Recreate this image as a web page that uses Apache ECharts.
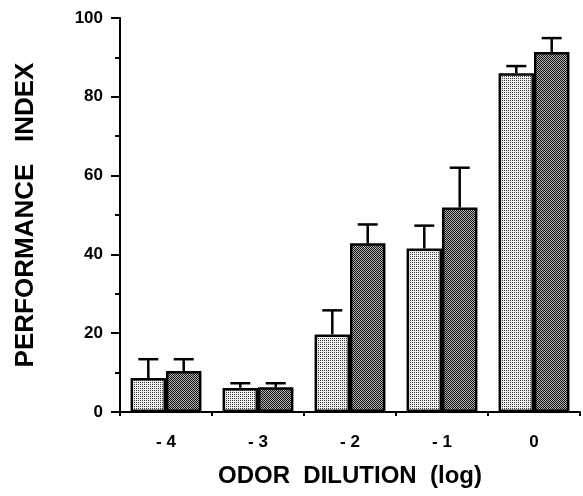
<!DOCTYPE html>
<html>
	<head>
		<meta charset="utf-8">
		<title>Performance index</title>
		<script src="https://cdn.jsdelivr.net/npm/echarts@6/dist/echarts.min.js"></script>
		<style>
			html, body { margin: 0; padding: 0; background: #fff; }
			#myChart { width: 583px; height: 496px; }
		</style>
	</head>
	<body>
		<div id="myChart"></div>
		<script>
			// data
			var categories = ['- 4', '- 3', '- 2', '- 1', '0'];
			var lightValues = [8.6, 6.1, 19.7, 41.5, 86.0];
			var lightErrors = [4.8, 1.2, 6.1, 5.8, 1.8];
			var darkValues = [10.4, 6.3, 42.8, 51.9, 91.4];
			var darkErrors = [3.0, 1.0, 4.8, 10.1, 3.5];

			var gapRatio = 0.23;

			// stipple fill, 2x2 tile
			function makePattern(bg, dot, dots) {
				var c = document.createElement('canvas');
				c.width = 2;
				c.height = 2;
				var ctx = c.getContext('2d');
				ctx.fillStyle = bg;
				ctx.fillRect(0, 0, 2, 2);
				ctx.fillStyle = dot;
				for (var i = 0; i < dots.length; i++) {
					ctx.fillRect(dots[i][0], dots[i][1], 1, 1);
				}
				return c;
			}
			var lightFill = { image: makePattern('#f0f0f0', '#3a3a3a', [[0, 0]]), repeat: 'repeat' };
			var darkFill = { image: makePattern('#b4b4b4', '#111', [[0, 0], [1, 1]]), repeat: 'repeat' };

			function errData(values, errors) {
				var out = [];
				for (var i = 0; i < values.length; i++) {
					out.push([i, values[i], errors[i]]);
				}
				return out;
			}

			function errRender(side) {
				return function(params, api) {
					var idx = api.value(0);
					var v = api.value(1);
					var e = api.value(2);
					var base = api.coord([idx, v]);
					var top = api.coord([idx, v + e]);
					var bandW = api.size([1, 0])[0];
					var barW = bandW * (1 - gapRatio) / 2;
					var x = base[0] + side * barW / 2;
					var st = { stroke: '#000', lineWidth: 2.5 };
					return {
						type: 'group',
						children: [
							{ type: 'line', shape: { x1: x, y1: base[1], x2: x, y2: top[1] }, style: st },
							{ type: 'line', shape: { x1: x - 10, y1: top[1], x2: x + 10, y2: top[1] }, style: st }
						]
					};
				};
			}

			var font = 'Liberation Sans, Arial, sans-serif';
			var myChart = echarts.init(document.getElementById('myChart'));

			var option = {
				animation: false,
				grid: { left: 120, right: 3, top: 18, bottom: 84 },
				xAxis: {
					type: 'category',
					data: categories,
					name: 'ODOR  DILUTION  (log)',
					nameLocation: 'middle',
					nameGap: 52,
					nameTextStyle: { fontFamily: font, fontWeight: 'bold', fontSize: 24, color: '#000' },
					axisLine: { lineStyle: { color: '#000', width: 2 } },
					axisTick: { show: true, length: 4, lineStyle: { color: '#000', width: 2 } },
					axisLabel: { margin: 22, fontFamily: font, fontWeight: 'bold', fontSize: 17, color: '#000' }
				},
				yAxis: {
					type: 'value',
					min: 0,
					max: 100,
					interval: 20,
					name: 'PERFORMANCE   INDEX',
					nameLocation: 'middle',
					nameGap: 81,
					nameTextStyle: { fontFamily: font, fontWeight: 'bold', fontSize: 26, color: '#000' },
					axisLine: { show: true, lineStyle: { color: '#000', width: 2 } },
					axisTick: { show: true, length: 9, lineStyle: { color: '#000', width: 2 } },
					minorTick: { show: true, splitNumber: 2, length: 5, lineStyle: { color: '#000', width: 2 } },
					splitLine: { show: false },
					axisLabel: { margin: 17, fontFamily: font, fontWeight: 'bold', fontSize: 17, color: '#000' }
				},
				series: [
					{
						type: 'bar',
						data: lightValues,
						barGap: '0%',
						barCategoryGap: '23%',
						itemStyle: { color: lightFill, borderColor: '#000', borderWidth: 2.5 }
					},
					{
						type: 'bar',
						data: darkValues,
						itemStyle: { color: darkFill, borderColor: '#000', borderWidth: 2.5 }
					},
					{
						type: 'custom',
						renderItem: errRender(-1),
						data: errData(lightValues, lightErrors),
						z: 5
					},
					{
						type: 'custom',
						renderItem: errRender(1),
						data: errData(darkValues, darkErrors),
						z: 5
					}
				]
			};

			myChart.setOption(option);
		</script>
	</body>
</html>
